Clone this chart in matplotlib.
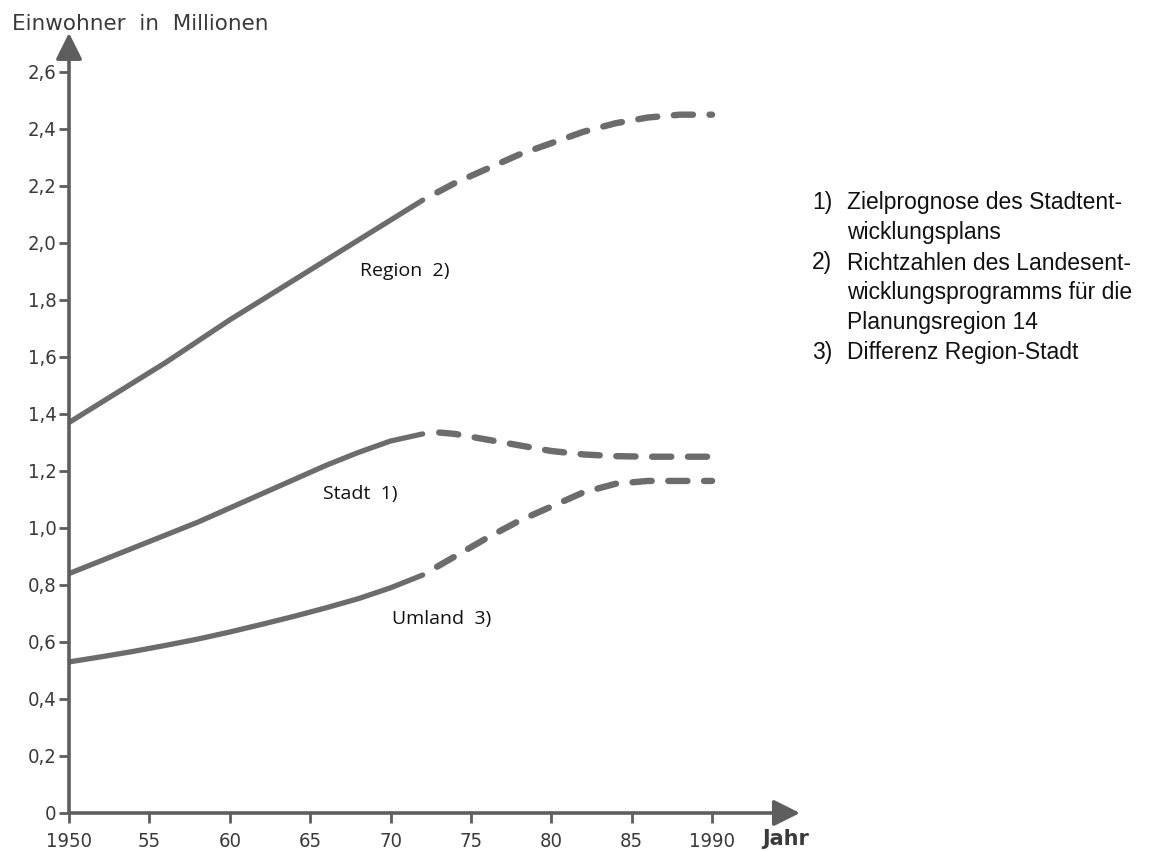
import matplotlib
matplotlib.use("Agg")
import matplotlib.pyplot as plt

# Einwohner in Millionen
region_years = [1950, 1952, 1954, 1956, 1958, 1960, 1962, 1964, 1966, 1968, 1970, 1972]
region_vals = [1.37, 1.44, 1.51, 1.58, 1.655, 1.73, 1.80, 1.87, 1.94, 2.01, 2.08, 2.15]
region_prog_years = [1972, 1974, 1976, 1978, 1980, 1982, 1984, 1986, 1988, 1990]
region_prog_vals = [2.15, 2.21, 2.26, 2.31, 2.35, 2.39, 2.42, 2.44, 2.45, 2.45]

stadt_years = [1950, 1952, 1954, 1956, 1958, 1960, 1962, 1964, 1966, 1968, 1970, 1972]
stadt_vals = [0.84, 0.885, 0.93, 0.975, 1.02, 1.07, 1.12, 1.17, 1.22, 1.265, 1.305, 1.33]
stadt_prog_years = [1972, 1973, 1974, 1976, 1978, 1980, 1982, 1984, 1986, 1988, 1990]
stadt_prog_vals = [1.33, 1.335, 1.33, 1.31, 1.29, 1.27, 1.258, 1.252, 1.25, 1.25, 1.25]

umland_years = [1950, 1952, 1954, 1956, 1958, 1960, 1962, 1964, 1966, 1968, 1970, 1972]
umland_vals = [0.53, 0.548, 0.567, 0.588, 0.61, 0.635, 0.662, 0.69, 0.72, 0.752, 0.79, 0.835]
umland_prog_years = [1972, 1974, 1976, 1978, 1980, 1982, 1984, 1986, 1988, 1990]
umland_prog_vals = [0.835, 0.90, 0.965, 1.025, 1.075, 1.125, 1.155, 1.165, 1.165, 1.165]

x_ticks = [1950, 1955, 1960, 1965, 1970, 1975, 1980, 1985, 1990]
x_labels = ['1950', '55', '60', '65', '70', '75', '80', '85', '1990']
y_ticks = [0, 0.2, 0.4, 0.6, 0.8, 1.0, 1.2, 1.4, 1.6, 1.8, 2.0, 2.2, 2.4, 2.6]
y_labels = ['0', '0,2', '0,4', '0,6', '0,8', '1,0', '1,2', '1,4', '1,6', '1,8', '2,0', '2,2', '2,4', '2,6']

notes = [('1)', ['Zielprognose des Stadtent-', 'wicklungsplans']),
         ('2)', ['Richtzahlen des Landesent-', 'wicklungsprogramms für die', 'Planungsregion 14']),
         ('3)', ['Differenz Region-Stadt'])]

W, H = 1156, 851
fig = plt.figure(figsize=(W / 100, H / 100), dpi=100)
ax = fig.add_axes([69 / W, 1 - 813 / H, 731 / W, 777 / H])
ax.set_xlim(1950, 1995.47)
ax.set_ylim(0, 2.726)
for s in ax.spines.values():
    s.set_visible(False)

line_col = '#6c6c6c'
axis_col = '#5e5e5e'
txt_col = '#3a3a3a'

solid = dict(color=line_col, lw=3.8, solid_capstyle='round', solid_joinstyle='round')
dashed = dict(color=line_col, lw=4.6, dash_capstyle='round', ls=(3.0, (3.0, 2.6)))

ax.plot(region_years, region_vals, **solid)
ax.plot(region_prog_years, region_prog_vals, **dashed)
ax.plot(stadt_years, stadt_vals, **solid)
ax.plot(stadt_prog_years, stadt_prog_vals, **dashed)
ax.plot(umland_years, umland_vals, **solid)
ax.plot(umland_prog_years, umland_prog_vals, **dashed)

# axes with arrow heads
arr = dict(arrowstyle='-|>,head_length=1.0,head_width=0.5', lw=2.6, color=axis_col,
           mutation_scale=16, shrinkA=0, shrinkB=0)
ax.annotate('', xy=(1, 0), xytext=(0, 0), xycoords='axes fraction', arrowprops=arr)
ax.annotate('', xy=(0, 1.004), xytext=(0, 0), xycoords='axes fraction', arrowprops=arr)

ax.set_xticks(x_ticks)
ax.set_xticklabels(x_labels)
ax.set_yticks(y_ticks)
ax.set_yticklabels(y_labels)
ax.tick_params(axis='x', direction='out', length=7, width=2, color=axis_col, pad=7,
               labelsize=14.5, labelcolor=txt_col)
ax.tick_params(axis='y', direction='out', length=7, width=2, color=axis_col, pad=2,
               labelsize=14.5, labelcolor=txt_col)
for lab in ax.get_xticklabels() + ax.get_yticklabels():
    lab.set_fontfamily('DejaVu Sans')
    lab.set_fontstretch('condensed')

fig.text(12 / W, 1 - 24 / H, 'Einwohner  in  Millionen', fontsize=15.5, color=txt_col,
         family='DejaVu Sans', ha='left', va='center')
fig.text(762 / W, 1 - 839 / H, 'Jahr', fontsize=15, color=txt_col, fontweight='bold',
         family='DejaVu Sans', ha='left', va='center')

ax.text(1968.1, 1.90, 'Region  2)', fontsize=14, family='Open Sans', color='#111111', va='center')
ax.text(1965.8, 1.12, 'Stadt  1)', fontsize=14, family='Open Sans', color='#111111', va='center')
ax.text(1970.1, 0.68, 'Umland  3)', fontsize=14, family='Open Sans', color='#111111', va='center')

y = 203
for num, lines in notes:
    fig.text(812 / W, 1 - y / H, num, fontsize=16.5, family='Liberation Sans', color='#111111', va='center')
    for ln in lines:
        fig.text(847 / W, 1 - y / H, ln, fontsize=16.5, family='Liberation Sans', color='#111111', va='center')
        y += 30

fig.savefig('out.png', dpi=100)
